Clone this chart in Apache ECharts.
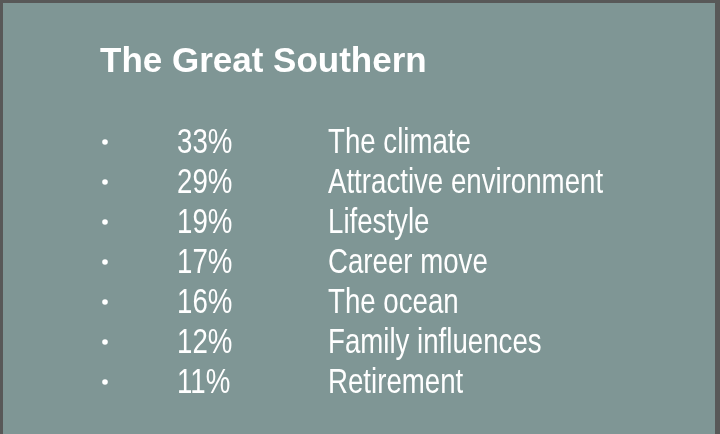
<!DOCTYPE html>
<html>
<head>
<meta charset="utf-8">
<script src="https://cdn.jsdelivr.net/npm/echarts@6/dist/echarts.min.js"></script>
<style>
  html, body { margin: 0; padding: 0; background: #585858; }
  #chart { width: 720px; height: 434px; }
</style>
</head>
<body>
<div id="chart"></div>
<script>
// Reasons for moving to the Great Southern
var titleText = 'The Great Southern';
var reasons = ['The climate', 'Attractive environment', 'Lifestyle', 'Career move', 'The ocean', 'Family influences', 'Retirement'];
var shares = [33, 29, 19, 17, 16, 12, 11];

var bgColor = '#7f9695';
// condensed look: regular sans squeezed horizontally
var textFont = '35px "Liberation Sans", Arial, sans-serif';
var squeeze = 0.79;

var chart = echarts.init(document.getElementById('chart'));

var rows = reasons.map(function (r, i) {
    return [0, i, shares[i], r];
});

function rowText(str, x, y) {
    return {
        type: 'text',
        x: x, y: y,
        scaleX: squeeze,
        style: {
            text: str,
            x: 0, y: 0,
            fill: '#ffffff',
            font: textFont,
            textAlign: 'left', align: 'left',
            textVerticalAlign: 'middle', verticalAlign: 'middle'
        }
    };
}

function renderRow(params, api) {
    var p = api.coord([0, api.value(1)]);
    var y = p[1];
    var idx = params.dataIndex;
    return {
        type: 'group',
        children: [{
            type: 'circle',
            shape: { cx: 105, cy: y + 1, r: 2.8 },
            style: { fill: '#ffffff' }
        },
        rowText(shares[idx] + '%', 177, y + 2),
        rowText(reasons[idx], 328, y + 2)]
    };
}

var option = {
    backgroundColor: '#585858',
    animation: false,
    graphic: [{
        type: 'rect',
        left: 3, top: 3,
        shape: { width: 712, height: 440 },
        style: { fill: bgColor },
        z: -10
    }],
    title: {
        text: titleText,
        left: 100,
        top: 45,
        padding: 0,
        textStyle: {
            color: '#ffffff',
            fontFamily: '"Liberation Sans", Arial, sans-serif',
            fontWeight: 'bold',
            fontSize: 35
        }
    },
    grid: { left: 0, right: 0, top: 121, bottom: 33 },
    xAxis: { type: 'value', min: 0, max: 1, show: false },
    yAxis: {
        type: 'category',
        data: reasons,
        inverse: true,
        show: false
    },
    series: [{
        type: 'custom',
        data: rows,
        renderItem: renderRow,
        encode: { x: 0, y: 1 },
        silent: true
    }]
};

chart.setOption(option);
</script>
</body>
</html>
